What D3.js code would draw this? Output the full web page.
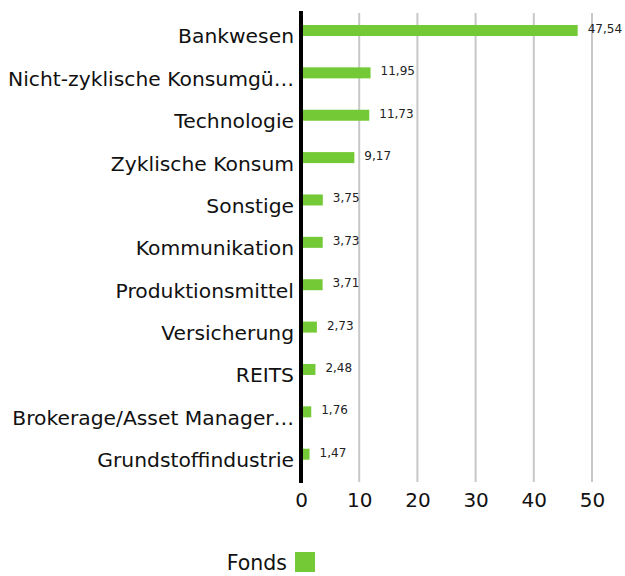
<!DOCTYPE html>
<html>
<head>
<meta charset="utf-8">
<script src="https://cdn.jsdelivr.net/npm/d3@7"></script>
<style>
html,body{margin:0;padding:0;background:#fff;}
svg{display:block;font-family:"DejaVu Sans",sans-serif;}
</style>
</head>
<body>
<svg id="chart" width="625" height="576"></svg>
<script>
const categories = ["Bankwesen","Nicht-zyklische Konsumgü…","Technologie","Zyklische Konsum","Sonstige","Kommunikation","Produktionsmittel","Versicherung","REITS","Brokerage/Asset Manager…","Grundstoffindustrie"];
const values = [47.54,11.95,11.73,9.17,3.75,3.73,3.71,2.73,2.48,1.76,1.47];
const valueLabels = ["47,54","11,95","11,73","9,17","3,75","3,73","3,71","2,73","2,48","1,76","1,47"];
const xTicks = [0,10,20,30,40,50];
const seriesName = "Fonds";

const color = "#74c936";
const svg = d3.select("#chart");

const x = d3.scaleLinear().domain([0,50]).range([301,592]);
const y = d3.scaleBand().domain(categories).range([9.3,475.4]).paddingInner(0).paddingOuter(0);
const bw = y.bandwidth();
const barH = 11;
const cy = c => y(c) + bw/2;

// gridlines
svg.append("g").selectAll("line").data(xTicks.filter(t=>t>0)).join("line")
  .attr("x1",d=>x(d)).attr("x2",d=>x(d))
  .attr("y1",13).attr("y2",482)
  .attr("stroke","#c8c8c8").attr("stroke-width",2);

// bars
svg.append("g").selectAll("rect").data(categories).join("rect")
  .attr("x",x(0)+2)
  .attr("y",(c)=>cy(c)-barH/2)
  .attr("width",(c,i)=>x(values[i])-x(0)-2)
  .attr("height",barH)
  .attr("fill",color);

// value labels
svg.append("g").selectAll("text").data(categories).join("text")
  .attr("x",(c,i)=>x(values[i])+10)
  .attr("y",c=>cy(c)+2.5)
  .attr("font-size",12)
  .attr("fill","#222")
  .text((c,i)=>valueLabels[i]);

// category labels
svg.append("g").selectAll("text").data(categories).join("text")
  .attr("x",294)
  .attr("y",c=>cy(c)+13)
  .attr("text-anchor","end")
  .attr("font-size",20.3)
  .attr("fill","#111")
  .text(c=>c);

// zero axis line
svg.append("line")
  .attr("x1",x(0)).attr("x2",x(0))
  .attr("y1",11).attr("y2",483)
  .attr("stroke","#000").attr("stroke-width",4);

// x axis tick labels
const xAxis = d3.axisBottom(x).tickValues(xTicks).tickSize(0).tickPadding(0).tickFormat(d3.format("d"));
const ax = svg.append("g").attr("transform","translate(0,507)").call(xAxis);
ax.select(".domain").remove();
ax.selectAll("text").attr("font-size",20).attr("font-family","DejaVu Sans, sans-serif")
  .attr("fill","#111").attr("dy",0).attr("y",0);

// legend
const lg = svg.append("g");
lg.append("text").attr("x",287).attr("y",570).attr("text-anchor","end")
  .attr("font-size",20.5).attr("fill","#111").text(seriesName);
lg.append("rect").attr("x",295).attr("y",552).attr("width",20).attr("height",20).attr("fill",color);
</script>
</body>
</html>
